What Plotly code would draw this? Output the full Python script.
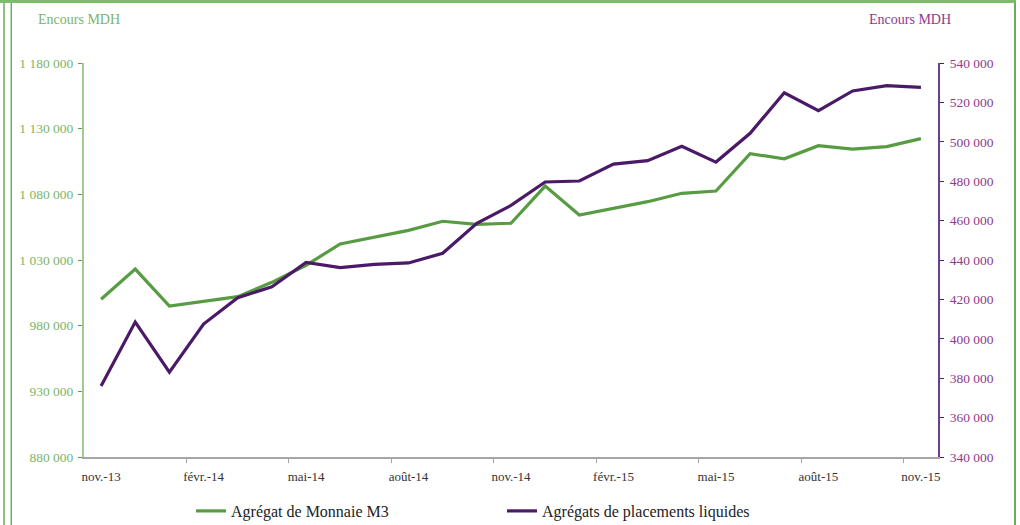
import plotly.graph_objects as go

months = ["nov.-13", "déc.-13", "janv.-14", "févr.-14", "mars-14", "avr.-14", "mai-14", "juin-14",
          "juil.-14", "août-14", "sept.-14", "oct.-14", "nov.-14", "déc.-14", "janv.-15", "févr.-15",
          "mars-15", "avr.-15", "mai-15", "juin-15", "juil.-15", "août-15", "sept.-15", "oct.-15", "nov.-15"]

m3 = [1000100, 1023100, 995000, 998300, 1002100, 1013000, 1026000, 1042200, 1047700, 1052600,
      1059500, 1057200, 1058000, 1086300, 1064300, 1069600, 1074400, 1080800, 1082500, 1110900,
      1107100, 1117000, 1114500, 1116300, 1122400]

apl = [376000, 408500, 383100, 407500, 420900, 426400, 438800, 436100, 437800, 438500,
       443400, 458600, 467700, 479600, 480100, 488700, 490400, 497700, 489700, 504300,
       524900, 515800, 525800, 528500, 527600]

label_idx = list(range(0, 25, 3))
tick_labels = [months[i] for i in label_idx]

GREEN = "#579c43"
PURPLE = "#4a1a68"
FONT = "Liberation Serif"

x = list(range(len(months)))

fig = go.Figure()
fig.add_trace(go.Scatter(x=x, y=m3, mode="lines", name="Agrégat de Monnaie M3",
                         line=dict(color=GREEN, width=3.2), yaxis="y", legend="legend"))
fig.add_trace(go.Scatter(x=x, y=apl, mode="lines", name="Agrégats de placements liquides",
                         line=dict(color=PURPLE, width=3.2), yaxis="y2", legend="legend2"))

L, R, T, B = 84, 938, 63, 457
W = R - L
H = B - T

def px(v):
    return (v - L) / W

def py(v):
    return (B - v) / H

fig.update_layout(
    width=1020, height=525,
    margin=dict(l=L, r=1020 - R, t=T, b=525 - B, autoexpand=False),
    paper_bgcolor="white", plot_bgcolor="white",
    separators=". ",
    font=dict(family=FONT, size=13, color="#333333"),
    xaxis=dict(range=[-0.5, 24.5], tickmode="array", tickvals=label_idx, ticktext=tick_labels,
               ticks="", showgrid=False, zeroline=False, showline=True, linecolor="#a6a6a6",
               linewidth=1.5, ticklabelstandoff=7, automargin=False,
               tickfont=dict(family=FONT, size=13, color="#333333"),
               minor=dict(tickmode="array", tickvals=[2.5 + 3 * k for k in range(8)],
                          ticks="outside", ticklen=4, tickcolor="#a6a6a6", tickwidth=1.2)),
    yaxis=dict(range=[880000, 1180000], tick0=880000, dtick=50000, tickformat=",d", showgrid=False,
               zeroline=False, showline=True, linecolor="#9fcc92", linewidth=2,
               ticks="outside", ticklen=4, tickcolor="#5f9e4f", tickwidth=1.2,
               ticklabelstandoff=2, automargin=False,
               tickfont=dict(family=FONT, size=13.5, color="#7ab56a")),
    yaxis2=dict(range=[340000, 540000], tick0=340000, dtick=20000, tickformat=",d", overlaying="y",
                side="right", showgrid=False, zeroline=False, showline=True,
                linecolor="#6a3f8c", linewidth=2, ticks="outside", ticklen=4,
                tickcolor="#4a1a68", tickwidth=1.2, ticklabelstandoff=3, automargin=False,
                tickfont=dict(family=FONT, size=13.5, color="#8e3a8e")),
    legend=dict(orientation="h", x=px(191), xanchor="left", y=py(511), yanchor="middle",
                font=dict(family=FONT, size=16, color="#222222"), bgcolor="rgba(0,0,0,0)"),
    legend2=dict(orientation="h", x=px(502), xanchor="left", y=py(511), yanchor="middle",
                 font=dict(family=FONT, size=16, color="#222222"), bgcolor="rgba(0,0,0,0)"),
    showlegend=True,
)

fig.add_annotation(text="Encours MDH", xref="paper", yref="paper", x=px(79), y=py(19),
                   xanchor="center", yanchor="middle",
                   showarrow=False, font=dict(family=FONT, size=14, color="#7ab56a"))
fig.add_annotation(text="Encours MDH", xref="paper", yref="paper", x=px(910), y=py(19),
                   xanchor="center", yanchor="middle",
                   showarrow=False, font=dict(family=FONT, size=14, color="#8e3a8e"))

FRAME = "#6aae58"
for xv, w in [(4, 1.5), (11.3, 1.5), (1015, 2)]:
    fig.add_shape(type="line", xref="paper", yref="paper", x0=px(xv), x1=px(xv),
                  y0=py(0), y1=py(525), line=dict(color=FRAME, width=w), layer="above")
fig.add_shape(type="line", xref="paper", yref="paper", x0=px(0), x1=px(1016),
              y0=py(1.5), y1=py(1.5), line=dict(color="#7dbb6d", width=3), layer="above")

fig.write_html("out.html", config={"displayModeBar": False},
               post_script="document.body.style.margin='0';document.body.style.overflow='hidden';")
